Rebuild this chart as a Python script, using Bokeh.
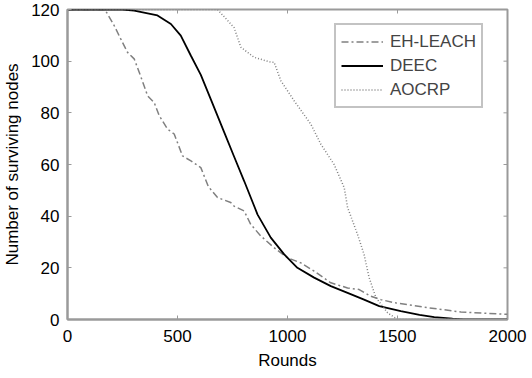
import math
from bokeh.plotting import figure
from bokeh.models import Range1d, Legend, LegendItem, FixedTicker
from bokeh.embed import file_html
from bokeh.resources import INLINE

eh_rounds = [0, 170, 212, 242, 273, 303, 326, 348, 364, 394, 417, 455, 485, 523, 561, 606, 640, 682, 742, 757, 803, 833, 879, 939, 1000, 1061, 1121, 1197, 1273, 1326, 1379, 1424, 1485, 1636, 1788, 2000]
eh_nodes = [120, 120, 113.8, 108.6, 103.4, 100.9, 95.7, 90.5, 86.6, 84, 78.9, 73.7, 71.8, 63.3, 61.4, 58.8, 51.5, 47.2, 45.3, 43.9, 42, 36.8, 32.3, 27.8, 23.9, 21.9, 18.7, 14.2, 12.2, 11.6, 9, 7.7, 6.5, 4.6, 2.9, 2]

deec_rounds = [0, 250, 303, 409, 470, 515, 561, 606, 652, 712, 758, 803, 864, 924, 985, 1045, 1121, 1197, 1273, 1348, 1417, 1515, 1600, 1667, 1750, 1800, 2000]
deec_nodes = [120, 120, 119.6, 117.7, 114.4, 109.9, 102.1, 94.7, 85.1, 72.5, 62.9, 53.6, 40.6, 31.7, 25.2, 20.0, 16.2, 12.9, 10.3, 7.7, 5.2, 3.2, 1.8, 0.9, 0.3, 0, 0]

aocrp_rounds = [0, 682, 757, 788, 848, 924, 939, 970, 1030, 1106, 1152, 1212, 1258, 1273, 1318, 1348, 1371, 1402, 1455, 1500, 2000]
aocrp_nodes = [120, 120, 113, 105.4, 101.5, 99.6, 99.6, 92.4, 84.7, 75.6, 67.8, 60, 51, 43.4, 33, 25.2, 16.2, 8.5, 2.6, 0, 0]

x_ticks = [0, 500, 1000, 1500, 2000]
y_ticks = [0, 20, 40, 60, 80, 100, 120]

FONT = "Liberation Sans"
AX = "#9a9a9a"
X_MIN, X_MAX = 0, 2000
Y_MIN, Y_MAX = 0, 120

p = figure(width=532, height=378, output_backend="svg", toolbar_location=None,
           x_range=Range1d(X_MIN, X_MAX), y_range=Range1d(Y_MIN, Y_MAX),
           min_border_left=66, min_border_right=25, min_border_top=9, min_border_bottom=59)
p.background_fill_color = "white"
p.border_fill_color = "white"
p.outline_line_color = AX
p.outline_line_width = 2
p.grid.visible = False

p.xaxis.ticker = FixedTicker(ticks=x_ticks)
p.yaxis.ticker = FixedTicker(ticks=y_ticks)
for ax in (p.xaxis[0], p.yaxis[0]):
    ax.axis_line_color = AX
    ax.axis_line_width = 2
    ax.major_tick_line_color = AX
    ax.major_tick_in = 4
    ax.major_tick_out = 0
    ax.minor_tick_line_color = None
    ax.major_label_text_font = FONT
    ax.major_label_text_color = "black"
    ax.major_label_text_font_size = "17px"
    ax.axis_label_text_font = FONT
    ax.axis_label_text_font_size = "17px"
    ax.axis_label_text_font_style = "normal"
    ax.axis_label_text_color = "black"
    ax.axis_label_standoff = 6
p.xaxis.major_label_standoff = 10
p.yaxis.major_label_standoff = 8
p.xaxis.axis_label = "Rounds"
p.yaxis.axis_label = "Number of surviving nodes"

# box ticks on top and right edges (half of each dash is clipped by the frame)
p.scatter(x_ticks, [Y_MAX] * len(x_ticks), marker="dash", size=8, angle=math.pi / 2,
          line_color=AX, line_width=1)
p.scatter([X_MAX] * len(y_ticks), y_ticks, marker="dash", size=8,
          line_color=AX, line_width=1)

r1 = p.line(eh_rounds, eh_nodes, line_color="#808080", line_width=1.5, line_dash="7 3 2 3")
r2 = p.line(deec_rounds, deec_nodes, line_color="black", line_width=1.8)
r3 = p.line(aocrp_rounds, aocrp_nodes, line_color="#808080", line_width=1.5, line_dash="1 2")

legend = Legend(items=[LegendItem(label="EH-LEACH", renderers=[r1]),
                       LegendItem(label="DEEC", renderers=[r2]),
                       LegendItem(label="AOCRP", renderers=[r3])],
                location=(267, 211))
legend.label_text_font = FONT
legend.label_text_font_size = "17px"
legend.label_height = 23
legend.glyph_height = 23
legend.glyph_width = 42
legend.label_standoff = 7
legend.spacing = 1
legend.padding = 5
legend.margin = 0
legend.border_line_color = "#888888"
legend.border_line_width = 2
legend.background_fill_alpha = 1
p.add_layout(legend)

open("out.html", "w").write(file_html(p, INLINE))
